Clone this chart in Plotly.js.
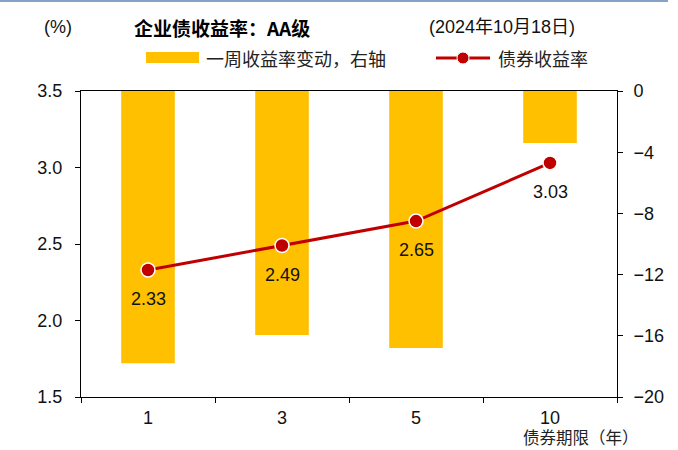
<!DOCTYPE html>
<html>
<head>
<meta charset="utf-8">
<script src="https://cdn.plot.ly/plotly-3.0.1.min.js"></script>
<style>html,body{margin:0;padding:0;background:#fff;}#chart{width:678px;height:450px;}</style>
</head>
<body>
<div id="chart"></div>
<script>
const categories = ["1", "3", "5", "10"];
const weeklyChange = [-17.8, -15.95, -16.8, -3.4];
const bondYield = [2.33, 2.49, 2.65, 3.03];
const yieldLabels = ["2.33", "2.49", "2.65", "3.03"];

const L = 81, R = 617, T = 91, B = 397;
const px = X => (X - L) / (R - L);
const py = Y => (B - Y) / (B - T);

const latin = "Liberation Sans, Arial, sans-serif";
const tickFont = {family: latin, size: 18, color: "#111"};
const cjk = "Noto Sans CJK SC, sans-serif";

const traces = [
  {
    type: "bar", x: categories, y: weeklyChange, yaxis: "y",
    marker: {color: "#FFC000"}, width: 0.4, showlegend: false, hoverinfo: "skip"
  },
  {
    type: "scatter", mode: "lines+markers", x: categories, y: bondYield, yaxis: "y2",
    line: {color: "#C00000", width: 3},
    marker: {color: "#C00000", size: 14, line: {color: "#fff", width: 1.5}},
    showlegend: false, cliponaxis: false
  }
];

const layout = {
  width: 678, height: 450,
  margin: {l: L, r: 678 - R, t: T, b: 450 - B, pad: 0},
  paper_bgcolor: "#fff", plot_bgcolor: "#fff",
  showlegend: false,
  xaxis: {
    type: "category", categoryorder: "array", categoryarray: categories,
    range: [-0.5, categories.length - 0.5], autorange: false,
    showline: true, linecolor: "#000", linewidth: 1, mirror: true,
    ticks: "outside", tickson: "boundaries", ticklen: 5, tickcolor: "#000",
    ticklabelstandoff: 4,
    tickfont: tickFont, showgrid: false, zeroline: false, fixedrange: true
  },
  yaxis: {
    range: [-20, 0], dtick: 4, side: "right",
    showline: true, linecolor: "#000", linewidth: 1,
    ticks: "outside", ticklen: 5, tickcolor: "#000", ticklabelstandoff: 7,
    tickfont: tickFont, showgrid: false, zeroline: false, fixedrange: true
  },
  yaxis2: {
    range: [1.5, 3.5], dtick: 0.5, tickformat: ".1f", overlaying: "y", side: "left",
    showline: true, linecolor: "#000", linewidth: 1,
    ticks: "outside", ticklen: 5, tickcolor: "#000", ticklabelstandoff: 9,
    tickfont: tickFont, showgrid: false, zeroline: false, fixedrange: true
  },
  shapes: [
    {type: "line", xref: "paper", yref: "paper", x0: px(0), x1: px(668), y0: py(1), y1: py(1),
     line: {color: "#5B85B5", width: 1.5}},
    {type: "rect", xref: "paper", yref: "paper", x0: px(146), x1: px(199), y0: py(63), y1: py(52),
     fillcolor: "#FFC000", line: {width: 0}},
    {type: "line", xref: "paper", yref: "paper", x0: px(436), x1: px(490), y0: py(58), y1: py(58),
     line: {color: "#C00000", width: 3}},
    {type: "circle", xref: "paper", yref: "paper", x0: px(457), x1: px(469), y0: py(64), y1: py(52),
     fillcolor: "#C00000", line: {color: "#fff", width: 1}}
  ],
  annotations: [
    {xref: "paper", yref: "paper", x: px(42), y: py(27), xanchor: "left", yanchor: "middle",
     text: "(%)", showarrow: false, font: {family: latin, size: 18, color: "#111"}},
    {xref: "paper", yref: "paper", x: px(132), y: py(27), xanchor: "left", yanchor: "middle",
     text: "<b>企业债收益率：AA级</b>", showarrow: false, font: {family: cjk, size: 19, color: "#000"}},
    {xref: "paper", yref: "paper", x: px(427), y: py(27), xanchor: "left", yanchor: "middle",
     text: "(2024年10月18日)", showarrow: false, font: {family: "Liberation Sans, " + cjk, size: 18, color: "#111"}},
    {xref: "paper", yref: "paper", x: px(204), y: py(58), xanchor: "left", yanchor: "middle",
     text: "一周收益率变动，右轴", showarrow: false, font: {family: cjk, size: 18, color: "#222"}},
    {xref: "paper", yref: "paper", x: px(496), y: py(58), xanchor: "left", yanchor: "middle",
     text: "债券收益率", showarrow: false, font: {family: cjk, size: 18, color: "#222"}},
    {xref: "paper", yref: "paper", x: px(640), y: py(450), xanchor: "right", yanchor: "bottom",
     borderpad: 0, text: "债券期限（年）", showarrow: false, font: {family: cjk, size: 16.5, color: "#222"}}
  ]
};

categories.forEach((c, i) => {
  layout.annotations.push({
    xref: "x", yref: "y2", x: i, y: bondYield[i], yshift: -29,
    xanchor: "center", yanchor: "middle", showarrow: false,
    text: yieldLabels[i], font: {family: latin, size: 18, color: "#111"}
  });
});

Plotly.newPlot("chart", traces, layout, {displayModeBar: false, staticPlot: true});
</script>
</body>
</html>
